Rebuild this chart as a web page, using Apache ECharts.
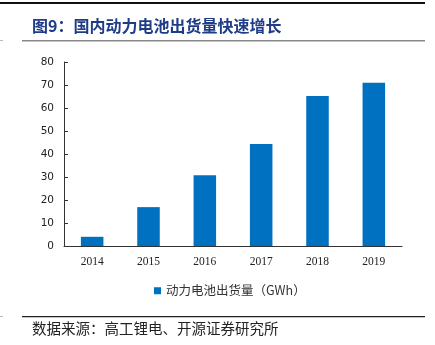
<!DOCTYPE html>
<html><head><meta charset="utf-8">
<script src="https://cdn.jsdelivr.net/npm/echarts@6/dist/echarts.min.js"></script>
<style>html,body{margin:0;padding:0;background:#fff}#c{width:435px;height:345px}</style>
</head><body><div id="c"></div>
<script>
const categories = ['2014','2015','2016','2017','2018','2019'];
const shipments = [4.0, 16.9, 30.8, 44.3, 65.2, 71.0];
const yTicks = [0,10,20,30,40,50,60,70,80];
const seriesName = '动力电池出货量（GWh）';
const titleText = '图9：国内动力电池出货量快速增长';
const sourceText = '数据来源：高工锂电、开源证券研究所';

const chart = echarts.init(document.getElementById('c'));
const serif = '"Liberation Serif","Times New Roman",serif';
const cjk = '"Noto Sans CJK SC",sans-serif';
chart.setOption({
  animation:false,
  backgroundColor:'#fff',
  grid:{left:64,right:33,top:62,bottom:99,containLabel:false},
  legend:{
    data:[seriesName], bottom:43, left:149, itemWidth:7, itemHeight:7, itemGap:4,
    icon:'rect',
    textStyle:{fontFamily:cjk+','+serif,fontSize:12.5,color:'#333'}
  },
  xAxis:{
    type:'category', data:categories,
    axisLine:{lineStyle:{color:'#333',width:1}},
    axisTick:{inside:true,length:4,lineStyle:{color:'#333'}},
    axisLabel:{fontFamily:serif,fontSize:11.5,color:'#222',margin:10}
  },
  yAxis:{
    type:'value', min:yTicks[0], max:yTicks[yTicks.length-1], interval:10,
    axisLine:{show:true,lineStyle:{color:'#333'}},
    axisTick:{show:true,inside:true,length:4,lineStyle:{color:'#333'}},
    splitLine:{show:false},
    axisLabel:{fontFamily:'"DejaVu Sans",sans-serif',fontSize:10.5,color:'#222',margin:10}
  },
  series:[{
    name:seriesName, type:'bar', data:shipments, barWidth:'40%',
    itemStyle:{color:'#0070C0'}
  }],
  graphic:[
    {type:'rect',shape:{x:0,y:2,width:425,height:2},style:{fill:'#111'}},
    {type:'text',left:32,top:18,style:{text:titleText,font:'bold 16px '+cjk,fill:'#1F3C88'}},
    {type:'rect',shape:{x:22,y:40,width:403,height:1.5},style:{fill:'#888'}},
    {type:'rect',shape:{x:0,y:40,width:3,height:1},style:{fill:'#bbb'}},
    {type:'rect',shape:{x:22,y:316,width:403,height:1.2},style:{fill:'#222'}},
    {type:'rect',shape:{x:0,y:316,width:3,height:1},style:{fill:'#bbb'}},
    {type:'text',left:32,top:321,style:{text:sourceText,font:'14.5px '+cjk,fill:'#222'}}
  ]
});
</script></body></html>
